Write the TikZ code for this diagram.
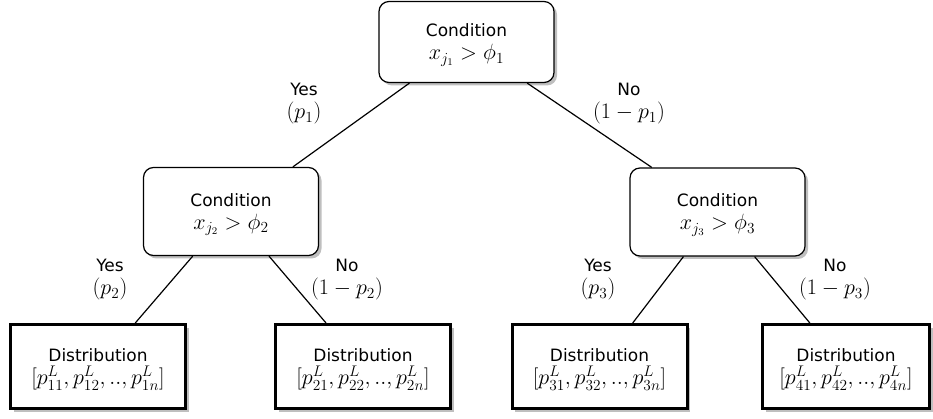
\documentclass[tikz,border=0pt]{standalone}
\usepackage{fontspec}
\usepackage{graphicx}
\setmainfont{DejaVu Sans}
\usetikzlibrary{shadows}
\newcommand{\mth}[1]{\scalebox{1.28}{$#1$}}
\newcommand{\tup}{\rule{0pt}{19pt}}
\begin{document}
\begin{tikzpicture}[x=1pt,y=-1pt,
  txt/.style={align=center, font=\fontsize{17}{23}\selectfont},
  shad/.style={drop shadow={shadow xshift=3pt,shadow yshift=-3pt,fill=black!25,opacity=1}},
  condbox/.style={txt, shad, draw, line width=1.2pt, rounded corners=10pt, fill=white,
    minimum width=175pt, minimum height=88pt, inner sep=0pt},
  leafbox/.style={txt, shad, draw, line width=3pt, fill=white,
    minimum width=175pt, minimum height=84pt, inner sep=0pt},
  lbl/.style={txt, inner sep=0pt},
  conn/.style={line width=1.2pt}]
\useasboundingbox (0,0) rectangle (933,419);

\node[condbox, minimum height=81pt] (root) at (466.5,42) {\tup Condition\\\mth{x_{j_1} > \phi_1}};
\node[condbox] (cl) at (231,211.5) {\tup Condition\\\mth{x_{j_2} > \phi_2}};
\node[condbox] (cr) at (717.5,212) {\tup Condition\\\mth{x_{j_3} > \phi_3}};

\node[leafbox] (l1) at (98,366.5) {\tup Distribution\\\mth{[p^L_{11},p^L_{12},..,p^L_{1n}]}};
\node[leafbox] (l2) at (363,366.5) {\tup Distribution\\\mth{[p^L_{21},p^L_{22},..,p^L_{2n}]}};
\node[leafbox] (l3) at (599.5,366.5) {\tup Distribution\\\mth{[p^L_{31},p^L_{32},..,p^L_{3n}]}};
\node[leafbox, minimum width=167pt] (l4) at (846,366.5) {\tup Distribution\\\mth{[p^L_{41},p^L_{42},..,p^L_{4n}]}};

\draw[conn] (root) -- (cl);
\draw[conn] (root) -- (cr);
\draw[conn] (cl) -- (l1);
\draw[conn] (cl) -- (l2);
\draw[conn] (cr) -- (l3);
\draw[conn] (cr) -- (l4);

\node[lbl] (y1) at (304,104) {Yes\\\mth{(p_1)}};
\node[lbl] (n1) at (629,104) {No\\\mth{(1-p_1)}};
\node[lbl] (y2) at (110,280) {Yes\\\mth{(p_2)}};
\node[lbl] (n2) at (347,280) {No\\\mth{(1-p_2)}};
\node[lbl] (y3) at (598,280) {Yes\\\mth{(p_3)}};
\node[lbl] (n3) at (835,280) {No\\\mth{(1-p_3)}};
\end{tikzpicture}
\end{document}
